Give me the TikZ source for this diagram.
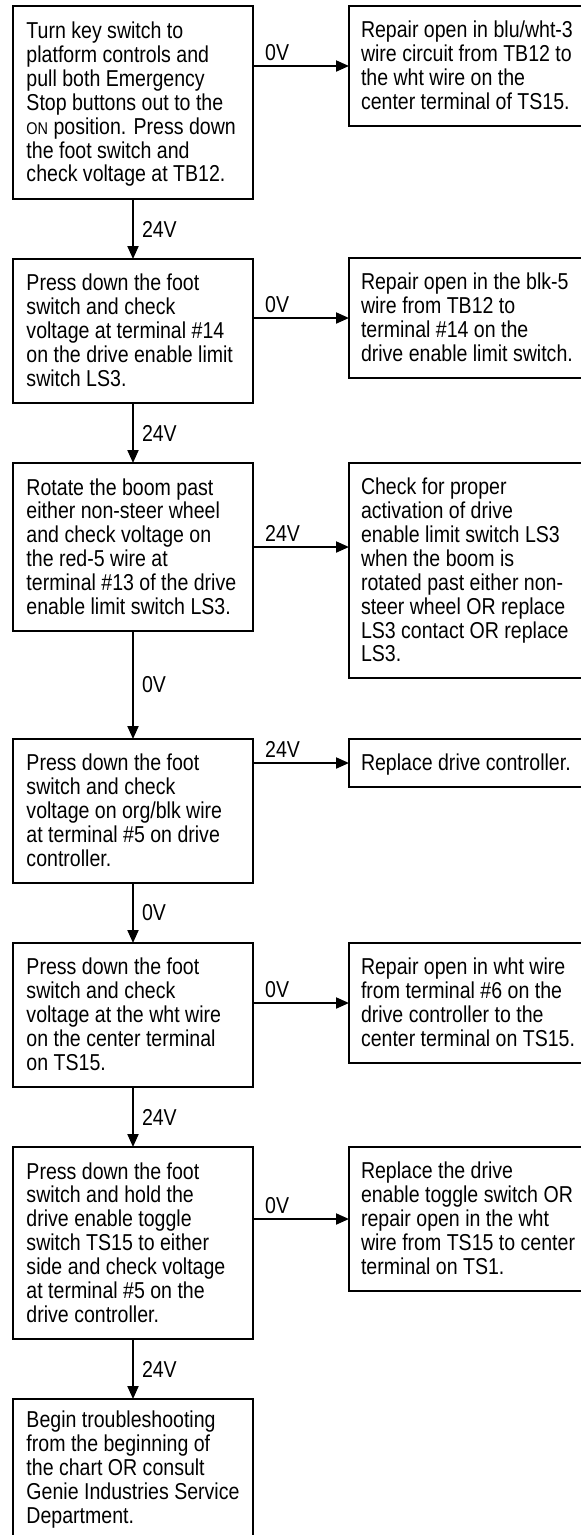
\documentclass[tikz,border=0pt]{standalone}
\usepackage{fontspec}
\setmainfont[FakeStretch=0.85]{Liberation Sans}
\usetikzlibrary{arrows.meta,calc}
\newcommand\bxtext[2]{\makebox[#1][l]{\raisebox{0pt}[\dimexpr\height+3pt\relax][\dimexpr\depth-3pt\relax]{\begin{tabular}{@{}l@{}}#2\end{tabular}}}}
\newcommand\onsc[1]{{\fontsize{17pt}{17pt}\selectfont #1}}
\tikzset{
  chartfont/.style={font=\fontsize{23pt}{23.9pt}\selectfont},
  lbox/.style={draw, line width=2.2pt, inner xsep=13.5pt, inner ysep=0pt, outer sep=0pt,
    anchor=north west, minimum width=240pt, chartfont},
  rbox/.style={draw, line width=2.2pt, inner xsep=12pt, inner ysep=0pt, outer sep=0pt,
    anchor=north west, minimum width=240pt, chartfont},
  flow/.style={line width=2pt, -{Triangle[length=13pt,width=11pt]}},
  vlab/.style={chartfont, inner sep=0pt, anchor=west, xshift=8pt},
  hlab/.style={chartfont, inner sep=0pt, anchor=base west}
}
\begin{document}
\begin{tikzpicture}[x=1pt,y=-1pt]
\useasboundingbox (0,0) rectangle (581,1535);
\clip (0,0) rectangle (581,1535);
\fill[white] (0,0) rectangle (581,1535);

% left column
\node[lbox, minimum height=193pt] (L1) at (13,6) {\bxtext{213pt}{Turn key switch to\\platform controls and\\pull both Emergency\\Stop buttons out to the\\\onsc{ON} position. Press down\\the foot switch and\\check voltage at TB12.}};
\node[lbox, minimum height=144pt] (L2) at (13,259) {\bxtext{213pt}{Press down the foot\\switch and check\\voltage at terminal \#14\\on the drive enable limit\\switch LS3.}};
\node[lbox, minimum height=168pt] (L3) at (13,463) {\bxtext{213pt}{Rotate the boom past\\either non-steer wheel\\and check voltage on\\the red-5 wire at\\terminal \#13 of the drive\\enable limit switch LS3.}};
\node[lbox, minimum height=144pt] (L4) at (13,739) {\bxtext{213pt}{Press down the foot\\switch and check\\voltage on org/blk wire\\at terminal \#5 on drive\\controller.}};
\node[lbox, minimum height=144pt] (L5) at (13,943) {\bxtext{213pt}{Press down the foot\\switch and check\\voltage at the wht wire\\on the center terminal\\on TS15.}};
\node[lbox, minimum height=192pt] (L6) at (13,1147) {\bxtext{213pt}{Press down the foot\\switch and hold the\\drive enable toggle\\switch TS15 to either\\side and check voltage\\at terminal \#5 on the\\drive controller.}};
\node[lbox, minimum height=137pt] (L7) at (13,1399) {\bxtext{213pt}{Begin troubleshooting\\from the beginning of\\the chart OR consult\\Genie Industries Service\\Department.}};

% right column
\node[rbox, minimum height=120pt] (R1) at (349,6) {\bxtext{216pt}{Repair open in blu/wht-3\\wire circuit from TB12 to\\the wht wire on the\\center terminal of TS15.}};
\node[rbox, minimum height=120pt] (R2) at (349,258) {\bxtext{216pt}{Repair open in the blk-5\\wire from TB12 to\\terminal \#14 on the\\drive enable limit switch.}};
\node[rbox, minimum height=215pt] (R3) at (349,463) {\bxtext{216pt}{Check for proper\\activation of drive\\enable limit switch LS3\\when the boom is\\rotated past either non-\\steer wheel OR replace\\LS3 contact OR replace\\LS3.}};
\node[rbox, minimum height=48pt] (R4) at (349,739) {\bxtext{216pt}{Replace drive controller.}};
\node[rbox, minimum height=120pt] (R5) at (349,943) {\bxtext{216pt}{Repair open in wht wire\\from terminal \#6 on the\\drive controller to the\\center terminal on TS15.}};
\node[rbox, minimum height=144pt] (R6) at (349,1147) {\bxtext{216pt}{Replace the drive\\enable toggle switch OR\\repair open in the wht\\wire from TS15 to center\\terminal on TS1.}};

% vertical connectors
\draw[flow] (L1.south) -- node[vlab] (v1) {24V} (L2.north);
\draw[flow] (L2.south) -- node[vlab] (v2) {24V} (L3.north);
\draw[flow] (L3.south) -- node[vlab] (v3) {0V} (L4.north);
\draw[flow] (L4.south) -- node[vlab] (v4) {0V} (L5.north);
\draw[flow] (L5.south) -- node[vlab] (v5) {24V} (L6.north);
\draw[flow] (L6.south) -- node[vlab] (v6) {24V} (L7.north);

% horizontal connectors
\draw[flow] (L1.east |- R1.west) -- (R1.west);
\node[hlab] (h1) at ($(L1.east |- R1.west)+(12,-6)$) {0V};
\draw[flow] (L2.east |- R2.west) -- (R2.west);
\node[hlab] (h2) at ($(L2.east |- R2.west)+(12,-6)$) {0V};
\draw[flow] (L3.east) -- (L3.east -| R3.west);
\node[hlab] (h3) at ($(L3.east)+(12,-6)$) {24V};
\draw[flow] (L4.east |- R4.west) -- (R4.west);
\node[hlab] (h4) at ($(L4.east |- R4.west)+(12,-6)$) {24V};
\draw[flow] (L5.east |- R5.west) -- (R5.west);
\node[hlab] (h5) at ($(L5.east |- R5.west)+(12,-6)$) {0V};
\draw[flow] (L6.east |- R6.west) -- (R6.west);
\node[hlab] (h6) at ($(L6.east |- R6.west)+(12,-6)$) {0V};
\end{tikzpicture}
\end{document}
